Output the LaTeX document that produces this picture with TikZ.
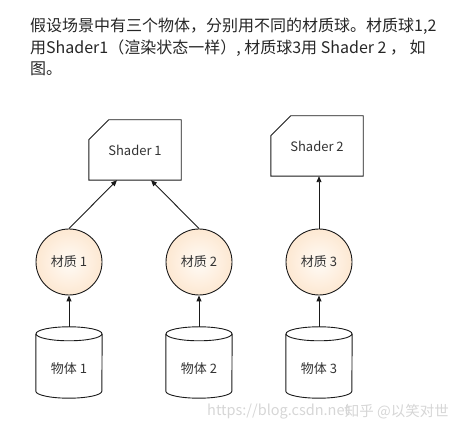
\documentclass[tikz,border=0pt]{standalone}
\usepackage{fontspec}
\setmainfont{Noto Sans CJK SC}
\usetikzlibrary{arrows.meta}
\definecolor{txtc}{HTML}{262626}
\definecolor{lblc}{HTML}{333333}
\definecolor{linec}{HTML}{1A1A1A}
\definecolor{matin}{HTML}{FFFBF6}
\definecolor{matout}{HTML}{FDE8D2}
\definecolor{wmc}{HTML}{D6D6D6}
\begin{document}
\begin{tikzpicture}[x=1pt,y=1pt,
  para/.style={anchor=base west, inner sep=0, font=\fontsize{16}{20}\selectfont, text=txtc},
  lbl/.style={font=\fontsize{13}{15}\selectfont, text=lblc, inner sep=0},
  shaderbox/.style={minimum width=92pt, minimum height=60pt, inner sep=0, font=\fontsize{13}{15}\selectfont, text=lblc},
  mat/.style={circle, minimum size=66pt, inner sep=0, draw=linec, line width=0.9pt, shading=radial, inner color=matin, outer color=matout, font=\fontsize{13}{15}\selectfont, text=lblc},
  cylbox/.style={minimum width=66pt, minimum height=71pt, inner sep=0},
  outline/.style={draw=linec, line width=0.9pt},
  arr/.style={draw=linec, line width=0.9pt, -{Triangle[length=6pt,width=5pt]}},
  wm/.style={font=\fontsize{14.5}{17}\selectfont, text=wmc, inner sep=0}]
\useasboundingbox (0,0) rectangle (460,430);
% paragraph
\node[para] (l1) at (30,398) {假设场景中有三个物体，分别用不同的材质球。材质球1,2};
\node[para] (l2) at (30,376.5) {用Shader1（渲染状态一样）, 材质球3用 Shader 2 ，~如};
\node[para] (l3) at (30,355) {图。};
% shaders
\node[shaderbox] (s1) at (135,280) {Shader 1};
\draw[outline] (s1.south west) -- (s1.south east) -- (s1.north east) -- ([xshift=20pt]s1.north west) -- ([yshift=-20pt]s1.north west) -- cycle;
\node[shaderbox] (s2) at (317,284) {Shader 2};
\draw[outline] (s2.south west) -- (s2.south east) -- (s2.north east) -- ([xshift=20pt]s2.north west) -- ([yshift=-20pt]s2.north west) -- cycle;
% materials
\node[mat] (m1) at (69,168) {材质 1};
\node[mat] (m2) at (199,168) {材质 2};
\node[mat] (m3) at (319,168) {材质 3};
% objects (cylinders)
\foreach \n/\x/\t in {o1/69/物体 1,o2/199/物体 2,o3/319/物体 3}{
  \node[cylbox] (\n) at (\x,67.5) {};
  \draw[outline] ([yshift=-7pt]\n.north west) -- ([yshift=7pt]\n.south west)
     arc[start angle=180, end angle=360, x radius=33pt, y radius=7pt]
     -- ([yshift=-7pt]\n.north east);
  \draw[outline] ([yshift=-7pt]\n.north) ellipse [x radius=33pt, y radius=7pt];
  \node[lbl] (\n t) at ([yshift=-6.5pt]\n.center) {\t};
}
% connectors
\draw[arr] (o1.north) -- (m1.south);
\draw[arr] (o2.north) -- (m2.south);
\draw[arr] (o3.north) -- (m3.south);
\draw[arr] (m1.north) -- ([xshift=-18pt]s1.south);
\draw[arr] (m2.north) -- ([xshift=16pt]s1.south);
\draw[arr] (m3.north) -- (m3.north |- s2.south);
% watermark
\node[wm, anchor=west] (wm1) at (207,18) {https://blog.csdn.net};
\node[wm, anchor=east] (wm2) at (449,18) {知乎 @以笑对世};
\end{tikzpicture}
\end{document}
